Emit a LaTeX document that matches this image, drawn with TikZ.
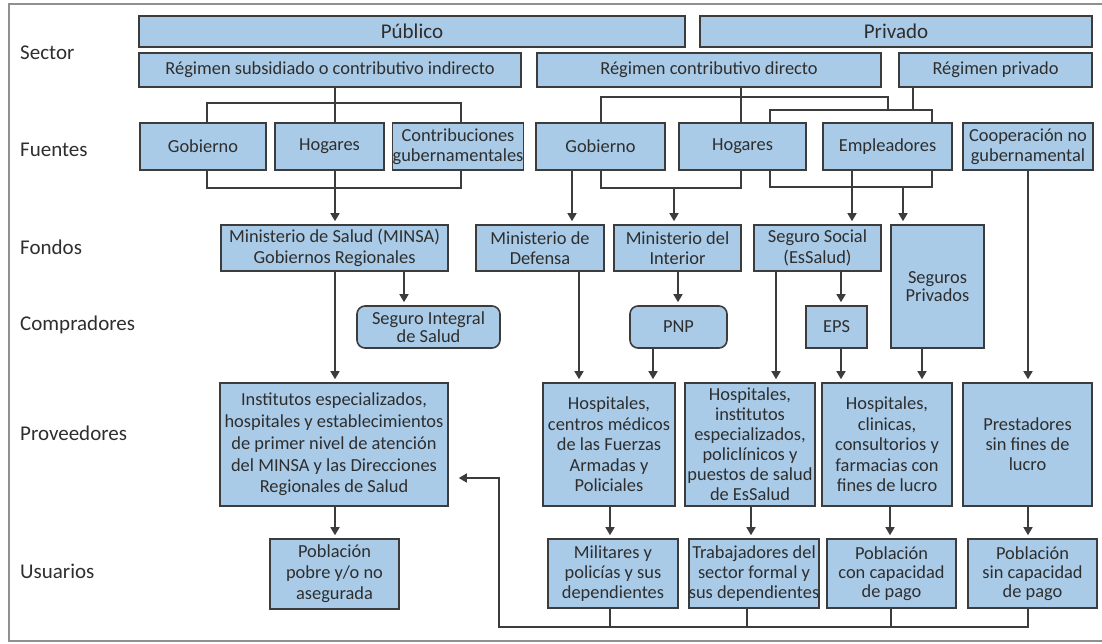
\documentclass[tikz,border=0pt]{standalone}
\usepackage{fontspec}
\setmainfont{Carlito}
\usetikzlibrary{arrows.meta}
\definecolor{boxfill}{HTML}{A9CBE7}
\definecolor{boxline}{HTML}{3C3C3C}
\definecolor{txt}{HTML}{2E2E2E}
\definecolor{framecol}{HTML}{909090}
\newcommand\bx[7][]{%
  \node[box,#1,minimum width={(#5-#3)*1pt},minimum height={(#6-#4)*1pt}] (#2) at ({(#3+#5)/2},{(#4+#6)/2}) {#7};}
\begin{document}
\begin{tikzpicture}[x=1pt,y=-1pt,
 box/.style={draw=boxline,line width=1.6pt,fill=boxfill,inner sep=0pt,align=center,text=txt,font=\fontsize{18.4}{20.5}\selectfont},
 rbox/.style={rounded corners=8pt},
 lab/.style={anchor=west,text=txt,font=\fontsize{21}{25}\selectfont,inner sep=0pt},
 conn/.style={draw=boxline,line width=1.5pt},
 arr/.style={conn,-{Triangle[width=9pt,length=8pt]},shorten >=3pt},
]
\useasboundingbox (0,0) rectangle (1102,643);
\draw[framecol,line width=1.5pt] (1110,4) -- (9,4) -- (9,641) -- (1110,641);

% row labels
\node[lab] (lsec) at (20,53) {Sector};
\node[lab] (lfue) at (20,150) {Fuentes};
\node[lab] (lfon) at (20,247) {Fondos};
\node[lab] (lcom) at (20,325) {Compradores};
\node[lab] (lpro) at (20,433) {Proveedores};
\node[lab] (lusu) at (20,571) {Usuarios};

% sector
\bx[font=\fontsize{21}{24}\selectfont]{pub}{139}{16}{685}{47}{Público}
\bx[font=\fontsize{21}{24}\selectfont]{priv}{700}{16}{1092}{47}{Privado}
\bx{rsub}{139}{53}{521}{87}{Régimen subsidiado o contributivo indirecto}
\bx{rcon}{537}{53}{881}{87}{Régimen contributivo directo}
\bx{rpriv}{899}{53}{1092}{87}{Régimen privado}

% fuentes
\bx{gob1}{140}{123}{266}{170}{Gobierno}
\bx{hog1}{275}{123}{384}{170}{Hogares}
\bx[font=\fontsize{18.4}{20}\selectfont]{contr}{393}{123}{523}{170}{Contribuciones\\gubernamentales}
\bx{gob2}{536}{123}{665}{170}{Gobierno}
\bx{hog2}{679}{123}{806}{170}{Hogares}
\bx{empl}{823}{123}{952}{170}{Empleadores}
\bx[font=\fontsize{18.4}{20}\selectfont]{coop}{963}{123}{1093}{170}{Cooperación no\\gubernamental}

% fondos
\bx{minsa}{221}{225}{448}{271}{Ministerio de Salud (MINSA)\\Gobiernos Regionales}
\bx{mdef}{476}{225}{604}{271}{Ministerio de\\Defensa}
\bx{mint}{614}{225}{741}{271}{Ministerio del\\Interior}
\bx{ess}{754}{225}{881}{271}{Seguro Social\\(EsSalud)}
\bx[font=\fontsize{18.4}{18.5}\selectfont]{segp}{891}{225}{984}{348}{Seguros\\Privados}

% compradores
\bx[rbox,font=\fontsize{18.4}{18.5}\selectfont]{sis}{357}{306}{500}{348}{Seguro Integral\\de Salud}
\bx[rbox]{pnp}{630}{306}{727}{348}{PNP}
\bx{eps}{806}{306}{867}{348}{EPS}

% proveedores
\bx[font=\fontsize{18.4}{21.7}\selectfont]{pinst}{220}{383}{448}{506}{Institutos especializados,\\hospitales y establecimientos\\de primer nivel de atención\\del MINSA y las Direcciones\\Regionales de Salud}
\bx{pffaa}{543}{383}{675}{506}{Hospitales,\\centros médicos\\de las Fuerzas\\Armadas y\\Policiales}
\bx[font=\fontsize{18.4}{20}\selectfont]{pess}{685}{383}{815}{506}{Hospitales,\\institutos\\especializados,\\policlínicos y\\puestos de salud\\de EsSalud}
\bx{pclin}{822}{383}{952}{506}{Hospitales,\\clinicas,\\consultorios y\\farmacias con\\fines de lucro}
\bx[font=\fontsize{18.4}{20}\selectfont]{ppres}{963}{383}{1092}{506}{Prestadores\\sin fines de\\lucro}

% usuarios
\bx[font=\fontsize{18.4}{21}\selectfont]{upob}{270}{539}{399}{609}{Población\\pobre y/o no\\asegurada}
\bx[font=\fontsize{18.4}{20}\selectfont]{umil}{548}{539}{678}{608}{Militares y\\policías y sus\\dependientes}
\bx[font=\fontsize{18.4}{20}\selectfont]{utrab}{689}{539}{819}{608}{Trabajadores del\\sector formal y\\sus dependientes}
\bx[font=\fontsize{18.4}{19}\selectfont]{ucon}{827}{539}{956}{608}{Población\\con capacidad\\de pago}
\bx[font=\fontsize{18.4}{19}\selectfont]{usin}{968}{539}{1097}{608}{Población\\sin capacidad\\de pago}

% ---- connectors: sector -> fuentes (left)
\coordinate (t1a) at (207,103); \coordinate (t1b) at (461,103); \coordinate (t1c) at (335,0);
\draw[conn] (rsub.south -| t1c) -- (hog1.north -| t1c);
\draw[conn] (gob1.north -| t1a) -- (t1a) -- (t1b) -- (contr.north -| t1b);
% fuentes -> fondos (left)
\coordinate (b1a) at (207,188); \coordinate (b1b) at (461,188);
\draw[conn] (gob1.south -| b1a) -- (b1a) -- (b1b) -- (contr.south -| b1b);
\draw[arr] (hog1.south -| t1c) -- (minsa.north -| t1c);

% sector -> fuentes (right)
\coordinate (t2a) at (601,97); \coordinate (t2b) at (888,97); \coordinate (t2c) at (888,110);
\coordinate (t3a) at (770,110); \coordinate (t3b) at (932,110); \coordinate (t3c) at (913,110);
\coordinate (xr) at (741,0);
\draw[conn] (rcon.south -| xr) -- (hog2.north -| xr);
\draw[conn] (gob2.north -| t2a) -- (t2a) -- (t2b) -- (t2c);
\draw[conn] (rpriv.south -| t3c) -- (t3c);
\draw[conn] (hog2.north -| t3a) -- (t3a) -- (t3b) -- (empl.north -| t3b);

% fuentes -> fondos (right)
\coordinate (xd) at (572,0);
\draw[arr] (gob2.south -| xd) -- (mdef.north -| xd);
\coordinate (b2a) at (601,188); \coordinate (b2b) at (741,188); \coordinate (b2c) at (674,188);
\draw[conn] (gob2.south -| b2a) -- (b2a) -- (b2b) -- (hog2.south -| b2b);
\draw[arr] (b2c) -- (mint.north -| b2c);
\coordinate (b3a) at (770,187); \coordinate (b3b) at (932,187); \coordinate (b3c) at (903,187);
\draw[conn] (hog2.south -| b3a) -- (b3a) -- (b3b) -- (empl.south -| b3b);
\draw[arr] (b3c) -- (segp.north -| b3c);
\coordinate (xe) at (852,0);
\draw[arr] (empl.south -| xe) -- (ess.north -| xe);
\coordinate (xc) at (1028,0);
\draw[arr] (coop.south -| xc) -- (ppres.north -| xc);

% fondos -> compradores / proveedores
\coordinate (x404) at (404,0); \coordinate (x579) at (579,0); \coordinate (x678) at (678,0);
\coordinate (x653) at (653,0); \coordinate (x776) at (776,0); \coordinate (x841) at (841,0);
\coordinate (x922) at (922,0);
\draw[arr] (minsa.south -| x404) -- (sis.north -| x404);
\draw[arr] (minsa.south -| t1c) -- (pinst.north -| t1c);
\draw[arr] (mdef.south -| x579) -- (pffaa.north -| x579);
\draw[arr] (mint.south -| x678) -- (pnp.north -| x678);
\draw[arr] (pnp.south -| x653) -- (pffaa.north -| x653);
\draw[arr] (ess.south -| x776) -- (pess.north -| x776);
\draw[arr] (ess.south -| x841) -- (eps.north -| x841);
\draw[arr] (eps.south -| x841) -- (pclin.north -| x841);
\draw[arr] (segp.south -| x922) -- (pclin.north -| x922);

% proveedores -> usuarios
\coordinate (x610) at (610,0); \coordinate (x751) at (751,0); \coordinate (x890) at (890,0);
\coordinate (x747) at (747,0); \coordinate (x891) at (891,0);
\draw[arr] (pinst.south -| t1c) -- (upob.north -| t1c);
\draw[arr] (pffaa.south -| x610) -- (umil.north -| x610);
\draw[arr] (pess.south -| x751) -- (utrab.north -| x751);
\draw[arr] (pclin.south -| x890) -- (ucon.north -| x890);
\draw[arr] (ppres.south -| xc) -- (usin.north -| xc);

% feedback
\coordinate (f1) at (1028,627); \coordinate (f2) at (499,627); \coordinate (f3) at (499,478);
\draw[arr,shorten >=10pt] (usin.south -| f1) -- (f1) -- (f2) -- (f3) -- (f3 -| pinst.east);
\draw[conn] (umil.south -| x610) -- (x610 |- f1);
\draw[conn] (utrab.south -| x747) -- (x747 |- f1);
\draw[conn] (ucon.south -| x891) -- (x891 |- f1);
\end{tikzpicture}
\end{document}
